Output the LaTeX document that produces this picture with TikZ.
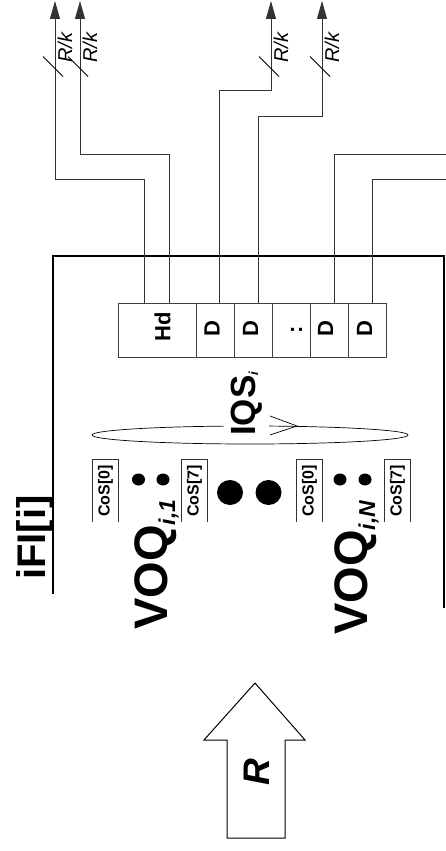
\documentclass[tikz,border=0pt]{standalone}
\usepackage{fontspec}
\setmainfont{Liberation Sans}
\usetikzlibrary{arrows.meta,calc}
\newcommand{\fs}[1]{\fontsize{#1}{#1}\selectfont}
\begin{document}
\begin{tikzpicture}[x=1pt,y=-1pt,
  wire/.style={line width=0.8pt, draw=black!80},
  outarrow/.style={wire,-{Triangle[length=18pt,width=10pt]}},
  slash/.style={line width=0.8pt, draw=black},
  cell/.style={draw=black!75, line width=0.8pt, minimum height=54pt, inner sep=0pt},
  celltext/.style={rotate=90, inner sep=0pt, font=\fs{22}\bfseries},
  rk/.style={rotate=90, anchor=base west, inner sep=0pt, font=\fs{20}\itshape},
  cos/.style={rotate=90, minimum width=62pt, minimum height=25pt, inner sep=0pt, font=\fs{16}\bfseries},
  cosframe/.style={line width=0.8pt, draw=black!80},
  bigtext/.style={rotate=90, anchor=base west, inner sep=0pt},
  dotsmall/.style={fill=black},
  border/.style={line width=2.5pt, draw=black},
  blockarrow/.style={line width=1pt, draw=black}
]
\useasboundingbox (0,0) rectangle (445,851);

% interface border
\draw[border] (53,594) -- (53,256) -- (444,256) -- (444,608);
\node[bigtext] (ifi) at (45,580) {\fs{40}\bfseries iFI[i]};

% packet cells
\node[cell, minimum width=78pt] (hd) at (157,330) {};
\node[cell, minimum width=38pt] (d1) at (215,330) {};
\node[cell, minimum width=38pt] (d2) at (253,330) {};
\node[cell, minimum width=38pt] (dd) at (291,330) {};
\node[cell, minimum width=38pt] (d3) at (329,330) {};
\node[cell, minimum width=38pt] (d4) at (367,330) {};
\node[celltext] (thd) at (162.5,326.5) {Hd};
\node[celltext] (td1) at (212,328.5) {D};
\node[celltext] (td2) at (250.5,328.5) {D};
\node[celltext] (tdd) at (296.5,330) {:};
\node[celltext] (td3) at (325.5,328.5) {D};
\node[celltext] (td4) at (364.5,328.5) {D};

% output wires
\coordinate (t1) at (55,1);
\coordinate (t2) at (80,1);
\coordinate (t3) at (271,1);
\coordinate (t4) at (322,1);
\coordinate (e5) at (446,154);
\coordinate (e6) at (446,179);
\draw[outarrow] ([xshift=-13pt]hd.north) |- (55,179) -- (t1);
\draw[outarrow] ([xshift=12pt]hd.north) |- (80,154) -- (t2);
\draw[outarrow] ([xshift=4pt]d1.north) |- (271,90) -- (t3);
\draw[outarrow] ([xshift=5pt]d2.north) |- (322,116) -- (t4);
\draw[wire] ([xshift=5pt]d3.north) |- (e5);
\draw[wire] ([xshift=5pt]d4.north) |- (e6);

% bus slashes and labels
\foreach \lx/\nm in {55/a,80/b,271/c,322/d}{
  \draw[slash] (\lx-2,66.5) +(-10,-10) -- +(10,10);
  \node[rk] (rk\nm) at (\lx+17,63) {R/k};
}

% IQS ellipse
\draw[line width=0.7pt] (250,435) ellipse [x radius=158, y radius=9];
\node[bigtext, fill=white, inner xsep=2pt, inner ysep=7pt] (iqs) at (255,438)
  {{\fs{35}\bfseries IQS}\raisebox{-3pt}{\fs{13}\bfseries\itshape i}};
\coordinate (iqstip) at (297,426);
\draw[line width=0.7pt] (270,416) -- (iqstip) -- (270,435);

% CoS boxes
\foreach \cx/\nm/\lab in {105.5/a/0,194.5/b/7,309.5/c/0,397.5/d/7}{
  \node[cos] (cos\nm) at (\cx,491) {CoS[\lab]};
  \draw[cosframe] (cos\nm.south west) -- (cos\nm.south east) -- (cos\nm.north east) -- (cos\nm.north west);
}

% dots
\fill[dotsmall] (138.5,479.5) ellipse [x radius=6.5, y radius=6];
\fill[dotsmall] (163,479.5) ellipse [x radius=6.5, y radius=6];
\fill[dotsmall] (340,479.5) ellipse [x radius=6.5, y radius=6];
\fill[dotsmall] (365,479.5) ellipse [x radius=6.5, y radius=6];
\fill[dotsmall] (230,492.5) ellipse [x radius=13, y radius=12.5];
\fill[dotsmall] (268.5,492.5) ellipse [x radius=13, y radius=12.5];

% VOQ labels
\node[bigtext] (voq1) at (167,630)
  {{\fs{47}\bfseries VOQ}\raisebox{-8pt}{\fs{23}\bfseries\itshape i,1}};
\node[bigtext] (voqn) at (367,635)
  {{\fs{47}\bfseries VOQ}\raisebox{-8pt}{\fs{23}\bfseries\itshape i,N}};

% input arrow R
\draw[blockarrow] (255,683) -- (305,740) -- (285,740) -- (285,838) -- (227,838) -- (227,740) -- (204,740) -- cycle;
\node[rotate=90, inner sep=0pt, font=\fs{37}\bfseries\itshape] (rin) at (257,772) {R};
\end{tikzpicture}
\end{document}
